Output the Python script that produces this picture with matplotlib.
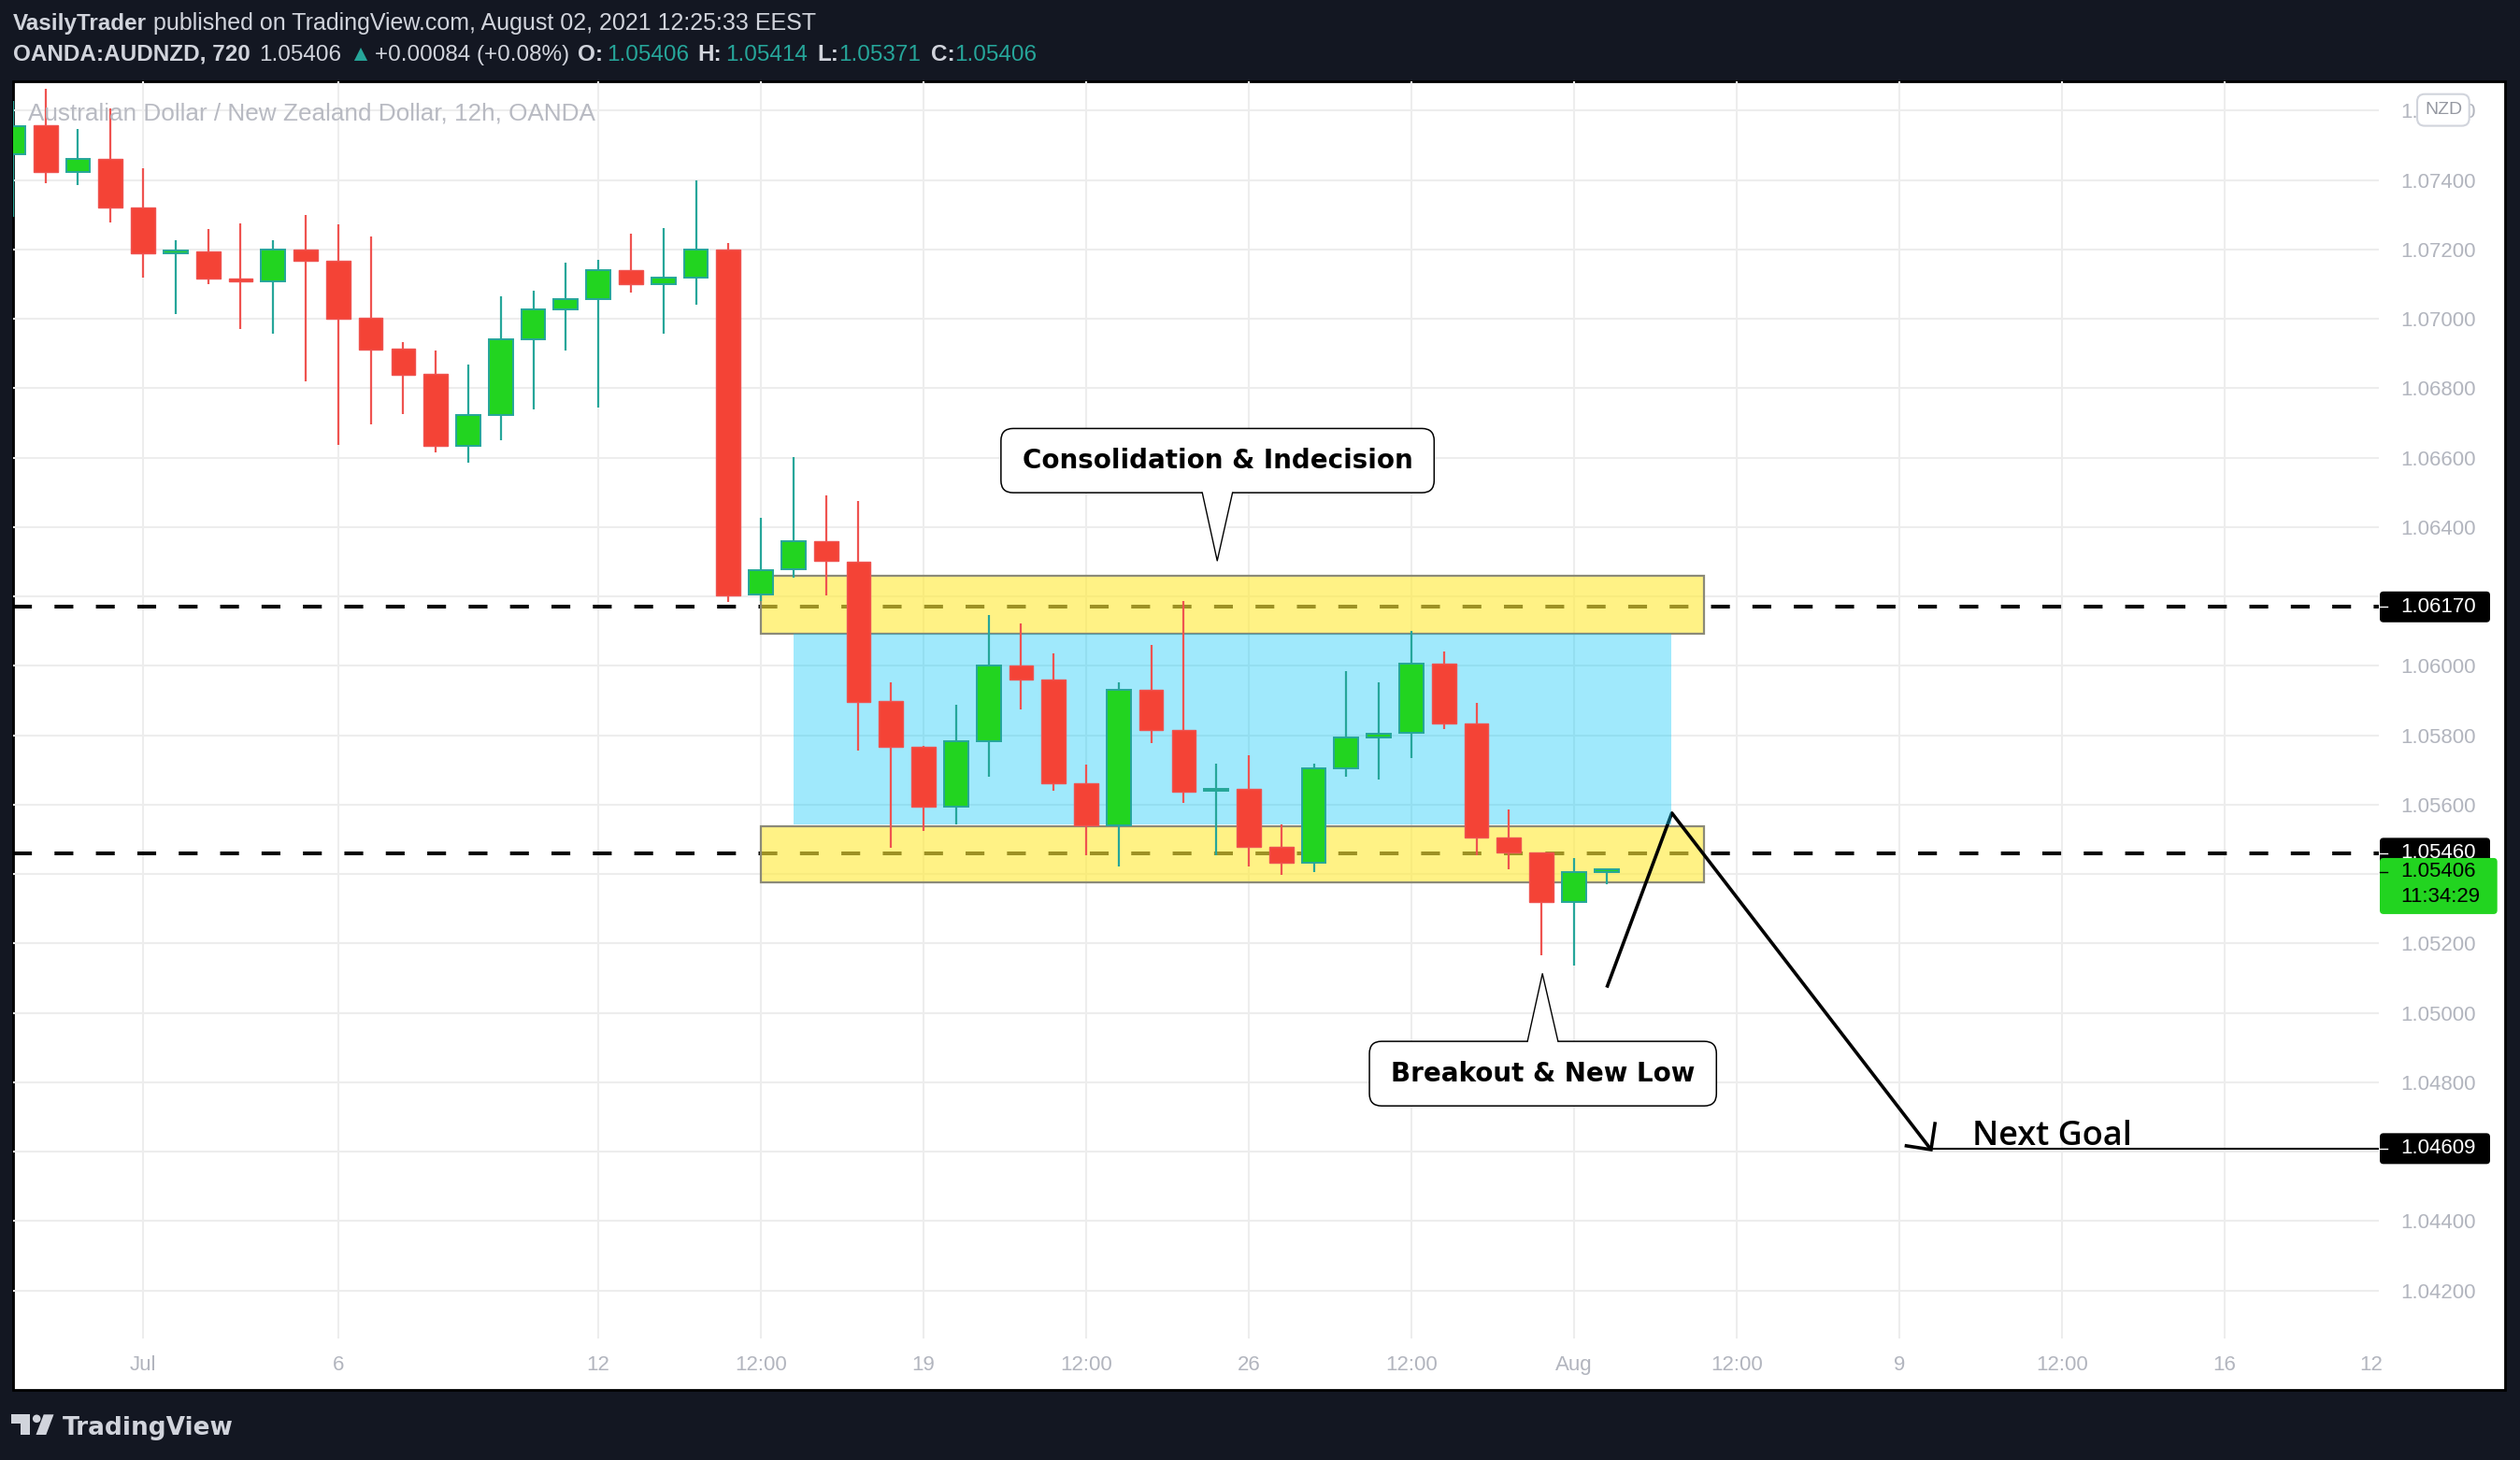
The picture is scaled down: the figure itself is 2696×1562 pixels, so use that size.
"""AUD/NZD 12h candles with a consolidation range and a breakout target."""
import matplotlib

matplotlib.use("Agg")
import matplotlib.pyplot as plt
import matplotlib.transforms as mtransforms
from matplotlib.patches import Circle, FancyBboxPatch, Polygon, Rectangle

# one candle per 12h bar, index 0 = 29 Jun 12:00
opens = [1.07475, 1.07557, 1.07423, 1.07460, 1.07321, 1.07190, 1.07194, 1.07116, 1.07109, 1.07199,
         1.07168, 1.07003, 1.06914, 1.06841, 1.06634, 1.06724, 1.06940, 1.07027, 1.07056, 1.07140,
         1.07101, 1.07118, 1.07199, 1.06206, 1.06278, 1.06360, 1.06301, 1.05898, 1.05766, 1.05595,
         1.05784, 1.06002, 1.05960, 1.05663, 1.05541, 1.05930, 1.05816, 1.05639, 1.05646, 1.05479,
         1.05434, 1.05706, 1.05793, 1.05807, 1.06006, 1.05834, 1.05505, 1.05463, 1.05319, 1.05406]
highs = [1.07629, 1.07662, 1.07546, 1.07606, 1.07433, 1.07227, 1.07260, 1.07276, 1.07227, 1.07298,
         1.07271, 1.07238, 1.06933, 1.06909, 1.06868, 1.07065, 1.07082, 1.07163, 1.07171, 1.07246,
         1.07262, 1.07400, 1.07218, 1.06427, 1.06603, 1.06491, 1.06475, 1.05953, 1.05770, 1.05888,
         1.06146, 1.06122, 1.06036, 1.05715, 1.05953, 1.06060, 1.06188, 1.05717, 1.05742, 1.05543,
         1.05717, 1.05985, 1.05953, 1.06100, 1.06041, 1.05893, 1.05586, 1.05463, 1.05446, 1.05414]
lows = [1.07293, 1.07392, 1.07385, 1.07277, 1.07120, 1.07015, 1.07099, 1.06972, 1.06956, 1.06821,
        1.06637, 1.06696, 1.06726, 1.06615, 1.06586, 1.06650, 1.06740, 1.06910, 1.06745, 1.07077,
        1.06958, 1.07042, 1.06183, 1.06188, 1.06255, 1.06204, 1.05757, 1.05477, 1.05523, 1.05544,
        1.05681, 1.05875, 1.05641, 1.05454, 1.05423, 1.05778, 1.05604, 1.05453, 1.05421, 1.05399,
        1.05407, 1.05681, 1.05672, 1.05735, 1.05818, 1.05454, 1.05414, 1.05167, 1.05137, 1.05371]
closes = [1.07555, 1.07423, 1.07460, 1.07321, 1.07190, 1.07194, 1.07115, 1.07109, 1.07199, 1.07166,
          1.07001, 1.06912, 1.06839, 1.06634, 1.06724, 1.06940, 1.07027, 1.07056, 1.07140, 1.07101,
          1.07118, 1.07199, 1.06204, 1.06276, 1.06360, 1.06302, 1.05897, 1.05766, 1.05595, 1.05784,
          1.06002, 1.05960, 1.05663, 1.05541, 1.05930, 1.05816, 1.05638, 1.05646, 1.05479, 1.05434,
          1.05706, 1.05793, 1.05804, 1.06006, 1.05834, 1.05505, 1.05463, 1.05319, 1.05406, 1.05406]

time_tick_pos = [4, 10, 18, 23, 28, 33, 38, 43, 48, 53, 58, 63, 68, 72.5]
time_tick_labels = ["Jul", "6", "12", "12:00", "19", "12:00", "26", "12:00", "Aug",
                    "12:00", "9", "12:00", "16", "12"]
price_ticks = [1.042, 1.044, 1.046, 1.048, 1.050, 1.052, 1.054, 1.056, 1.058,
               1.060, 1.062, 1.064, 1.066, 1.068, 1.070, 1.072, 1.074, 1.076]
# labels that sit under the price tags are not shown
hidden_price_ticks = [1.046, 1.054, 1.062]

resistance = 1.06170
support = 1.05460
target = 1.04609
last_price = 1.05406
countdown = "11:34:29"

# drawn zones: (first bar, last bar, low price, high price)
upper_zone = (23.0, 52.0, 1.06093, 1.06260)
lower_zone = (23.0, 52.0, 1.05377, 1.05539)
range_zone = (24.0, 51.0, 1.05543, 1.06093)
path_x = [49.01, 51.01, 58.98]
path_y = [1.05073, 1.05576, 1.04606]
head_x = [58.22, 58.98, 59.10]
head_y = [1.04617, 1.04606, 1.04681]

W, H = 2696, 1562
BG = "#131722"
TXT = "#D1D4DC"
AXIS_TXT = "#B2B5BE"
TEAL = "#26A69A"
GREEN = "#22D420"
RED = "#F44336"
RED_EDGE = "#EF5350"

plt.rcParams["font.family"] = ["Liberation Sans", "DejaVu Sans"]

fig = plt.figure(figsize=(W / 100, H / 100), dpi=100, facecolor=BG)
# pixel coordinates, origin top-left
px = mtransforms.Affine2D().scale(1 / W, -1 / H).translate(0, 1) + fig.transFigure

fig.patches.append(Rectangle((13.5, 87), 2666.5, 1400, transform=px, facecolor="white",
                             edgecolor="black", lw=2, zorder=-1))

AX_L, AX_R, AX_T, AX_B = 13.5, 2545, 87, 1432
XMIN, XMAX = -0.0115, 72.75
YMIN, YMAX = 1.040618, 1.076844
ax = fig.add_axes([AX_L / W, 1 - AX_B / H, (AX_R - AX_L) / W, (AX_B - AX_T) / H])
ax.set_facecolor("none")
ax.set_xlim(XMIN, XMAX)
ax.set_ylim(YMIN, YMAX)
bar_px = (AX_R - AX_L) / (XMAX - XMIN)
price_px = (AX_B - AX_T) / (YMAX - YMIN)

# grid and axes
ax.set_xticks(time_tick_pos)
ax.set_xticklabels(time_tick_labels)
ax.set_yticks(price_ticks)
ax.set_yticklabels(["" if any(abs(p - h) < 1e-9 for h in hidden_price_ticks) else f"{p:.5f}"
                    for p in price_ticks])
ax.yaxis.tick_right()
ax.set_axisbelow(True)
ax.grid(color="#EDEDED", lw=1.5)
ax.xaxis.get_gridlines()[-1].set_visible(False)
for s in ax.spines.values():
    s.set_visible(False)
ax.tick_params(axis="both", length=0, colors=AXIS_TXT, labelsize=16)
ax.tick_params(axis="x", pad=13)
ax.tick_params(axis="y", pad=16.5)

# candles
min_body = 2.5 / price_px
for i, (o, h, l, c) in enumerate(zip(opens, highs, lows, closes)):
    up = c >= o
    ax.vlines(i, l, h, color=TEAL if up else RED_EDGE, lw=1.6, zorder=5)
    ax.add_patch(Rectangle((i - 0.37, min(o, c)), 0.74, max(abs(c - o), min_body),
                           facecolor=GREEN if up else RED, edgecolor=TEAL if up else RED_EDGE,
                           lw=1.4 if up else 1.0, zorder=6))

# horizontal levels
for lvl in (resistance, support):
    ax.axhline(lvl, color="black", lw=2.9, linestyle=(0, (5, 6)), zorder=1)

# zones
for x0, x1, y0, y1 in (upper_zone, lower_zone):
    ax.add_patch(Rectangle((x0, y0), x1 - x0, y1 - y0, facecolor=(1, 0.922, 0.231, 0.62),
                           edgecolor="#8B8A78", lw=1.6, zorder=2))
x0, x1, y0, y1 = range_zone
ax.add_patch(Rectangle((x0, y0), x1 - x0, y1 - y0, facecolor=(0.0, 0.776, 0.969, 0.373),
                       edgecolor="none", zorder=4))

# projected path and target
ax.plot(path_x, path_y, color="black", lw=2.6, zorder=3, solid_capstyle="butt")
ax.plot(head_x, head_y, color="black", lw=2.6, zorder=3, solid_joinstyle="miter")
ax.hlines(target, path_x[-1], XMAX, color="black", lw=1.5, zorder=3)
ax.text(60.25, 1.04619, "Next Goal", fontsize=26, family=["Open Sans", "DejaVu Sans"],
        fontweight="semibold", color="black", ha="left", va="baseline", zorder=8)


def callout(bx0, bx1, by0, by1, tip_x, tip_y, base_l, base_r, text):
    r = 13 / bar_px
    asp = bar_px / price_px
    ax.add_patch(FancyBboxPatch((bx0, by0), bx1 - bx0, by1 - by0,
                                boxstyle=f"round,pad=0,rounding_size={r}", mutation_aspect=asp,
                                facecolor="white", edgecolor="black", lw=1.1, zorder=10))
    base_y = by0 if tip_y < by0 else by1
    inner = base_y + (3 / price_px if tip_y < by0 else -3 / price_px)
    ax.add_patch(Polygon([[base_l, inner], [base_l, base_y], [tip_x, tip_y], [base_r, base_y],
                          [base_r, inner]], closed=True, facecolor="white", edgecolor="none",
                         zorder=11))
    ax.plot([base_l, tip_x, base_r], [base_y, tip_y, base_y], color="black", lw=1.0, zorder=12)
    ax.text((bx0 + bx1) / 2, (by0 + by1) / 2, text, ha="center", va="center", fontsize=20,
            fontweight="bold", family="DejaVu Sans", color="black", zorder=13)


callout(30.38, 43.70, 1.06499, 1.06684, 37.03, 1.06303, 36.57, 37.50,
        "Consolidation & Indecision")
callout(41.71, 52.38, 1.04732, 1.04918, 47.03, 1.05113, 46.57, 47.51, "Breakout & New Low")

# price tags on the axis
tag_tr = mtransforms.blended_transform_factory(ax.transAxes, ax.transData)
ax_w = AX_R - AX_L


def price_tag(y_lo, y_hi, width_px, face, lines, tick_y, fg):
    ax.add_patch(FancyBboxPatch((1 + 1 / ax_w, y_lo), width_px / ax_w, y_hi - y_lo,
                                boxstyle=f"round,pad=0,rounding_size={4 / ax_w}",
                                mutation_aspect=ax_w / price_px, transform=tag_tr,
                                facecolor=face, edgecolor="none", zorder=20, clip_on=False))
    ax.plot([1 + 1 / ax_w, 1 + 9 / ax_w], [tick_y, tick_y], color=fg, lw=1, transform=tag_tr,
            zorder=21, clip_on=False)
    for yy, s in lines:
        ax.text(1 + 23 / ax_w, yy, s, transform=tag_tr, ha="left", va="center", fontsize=16,
                color=fg, zorder=22, clip_on=False)


half = 16.5 / price_px
for lvl in (resistance, support, target):
    price_tag(lvl - half, lvl + half, 118, "black", [(lvl, f"{lvl:.5f}")], lvl, "white")
price_tag(last_price - 45 / price_px, last_price + 15 / price_px, 125.7, GREEN,
          [(last_price, f"{last_price:.5f}"), (last_price - 26.7 / price_px, countdown)],
          last_price, "black")

# currency badge
fig.patches.append(FancyBboxPatch((2586, 100.7), 55.7, 33.9, boxstyle="round,pad=0,rounding_size=8",
                                  transform=px, facecolor="white", edgecolor="#D1D4DC", lw=1.5,
                                  zorder=5))
fig.text(2614, 118, "NZD", transform=px, ha="center", va="center", fontsize=14,
         color="#9598A1", zorder=6)

# watermark
fig.text(29.8, 129, "Australian Dollar / New Zealand Dollar, 12h, OANDA", transform=px,
         fontsize=18.8, color="#B8BAC2", va="baseline", ha="left", zorder=5)

# header
hdr = dict(transform=px, va="baseline", ha="left")
fig.text(13.8, 32.3, "VasilyTrader", color=TXT, fontweight="bold", fontsize=17.5, **hdr)
fig.text(164.5, 32.3, "published on TradingView.com, August 02, 2021 12:25:33 EEST", color=TXT,
         fontsize=18, **hdr)
row2 = [
    (13.8, "OANDA:AUDNZD, 720", TXT, "bold"),
    (277, "1.05406", TXT, "normal"),
    (372.6, "\u25b2", TEAL, "normal"),
    (401, "+0.00084 (+0.08%)", TXT, "normal"),
    (618, "O:", TXT, "bold"),
    (649, "1.05406", TEAL, "normal"),
    (746, "H:", TXT, "bold"),
    (776.6, "1.05414", TEAL, "normal"),
    (874.5, "L:", TXT, "bold"),
    (896.7, "1.05371", TEAL, "normal"),
    (996, "C:", TXT, "bold"),
    (1021.4, "1.05406", TEAL, "normal"),
]
for x, s, col, wt in row2:
    fig.text(x, 65, s, color=col, fontweight=wt, fontsize=17.5, **hdr)

# TradingView logo
logo = "#D1D4DC"
fig.patches.append(Rectangle((12.3, 1513.3), 19.4, 10, transform=px, facecolor=logo, lw=0))
fig.patches.append(Rectangle((21.7, 1513.3), 10, 21.7, transform=px, facecolor=logo, lw=0))
fig.patches.append(Circle((39.2, 1517.8), 4.3, transform=px, facecolor=logo, lw=0))
fig.patches.append(Polygon([[46.7, 1513.3], [57.5, 1513.3], [49.3, 1535], [38.5, 1535]],
                           closed=True, transform=px, facecolor=logo, lw=0))
fig.text(66.7, 1535, "TradingView", transform=px, fontsize=19, fontweight="bold",
         family="DejaVu Sans", color=logo, va="baseline", ha="left")

fig.savefig("out.png", dpi=100, facecolor=BG)
